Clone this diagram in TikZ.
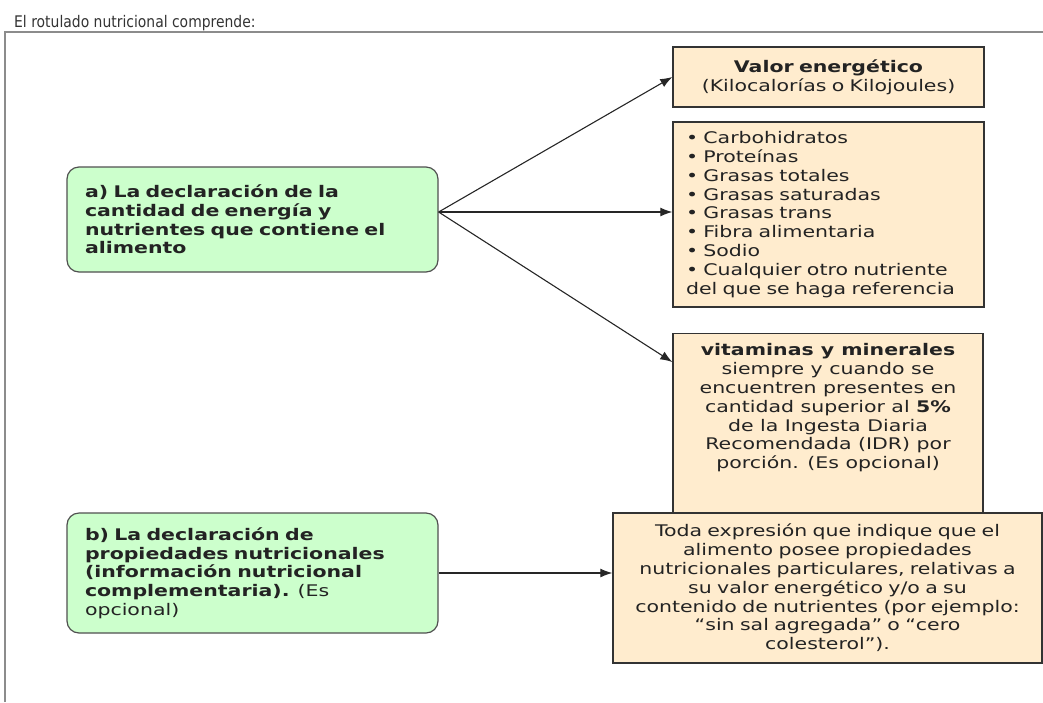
\documentclass[tikz,border=0pt]{standalone}
\usepackage{fontspec}
\setmainfont{DejaVu Sans}
\newfontfamily\boxfont{DejaVu Sans}[FakeStretch=1.28]
\newfontfamily\titlefont{DejaVu Sans}[FakeStretch=0.87]
\usetikzlibrary{arrows.meta}

\definecolor{boxgreen}{RGB}{204,255,204}
\definecolor{boxtan}{RGB}{255,236,206}
\definecolor{edgegray}{RGB}{80,80,80}
\definecolor{textgray}{RGB}{35,35,35}

\begin{document}
\begin{tikzpicture}[x=1pt, y=-1pt,
        greenbox/.style={draw=edgegray, line width=1.2pt, fill=boxgreen, rounded corners=12pt,
            align=left, text=textgray, inner xsep=18pt,
            font=\boxfont\fontsize{16}{18.7}\selectfont},
        tanbox/.style={draw=black!80, line width=1.4pt, fill=boxtan, text=textgray,
            font=\boxfont\fontsize{16}{18.8}\selectfont},
        arrow/.style={draw=black!85, line width=1.1pt, -{Latex[length=12pt, width=9pt]}},
        frameline/.style={draw=black!45, line width=1.5pt}]
        \useasboundingbox (0,0) rectangle (1043,702);

        % Title and frame
        \node[anchor=base west, inner sep=0pt, text=black!80, font=\titlefont\fontsize{16}{18}\selectfont] (title) at (14,27) {El rotulado nutricional comprende:};
        \draw[frameline] (5,702) -- (5,32) -- (1043,32);

        % Left boxes
        \node[greenbox, text width=335pt, minimum height=105pt] (decl) at (252.5,219.5)
            {\textbf{a) La declaración de la}\\ \textbf{cantidad de energía y}\\ \textbf{nutrientes que contiene el}\\ \textbf{alimento}};
        \node[greenbox, text width=335pt, minimum height=120pt] (prop) at (252.5,573)
            {\textbf{b) La declaración de}\\ \textbf{propiedades nutricionales}\\ \textbf{(información nutricional}\\ \textbf{complementaria).} (Es\\ opcional)};

        % Right boxes
        \node[tanbox, align=center, text width=300pt, inner xsep=5.5pt, minimum height=60pt] (energy) at (828.5,77)
            {\textbf{Valor energético}\\ (Kilocalorías o Kilojoules)};
        \node[tanbox, align=left, text width=285pt, inner xsep=13pt, minimum height=185pt] (nutr) at (828.5,214.5)
            {• Carbohidratos\\ • Proteínas\\ • Grasas totales\\ • Grasas saturadas\\ • Grasas trans\\ • Fibra alimentaria\\ • Sodio\\ • Cualquier otro nutriente\\ del que se haga referencia};
        \node[tanbox, anchor=north, inner xsep=10pt, minimum width=310pt, minimum height=180pt] (vitam) at (828,333)
            {\parbox[t][160pt][t]{290pt}{\centering \textbf{vitaminas y minerales}\\ siempre y cuando se\\ encuentren presentes en\\ cantidad superior al \textbf{5\%}\\ de la Ingesta Diaria\\ Recomendada (IDR) por\\ porción. (Es opcional)}};
        \node[tanbox, align=center, text width=410pt, inner xsep=9.5pt, minimum height=150pt] (claims) at (827.5,588)
            {Toda expresión que indique que el\\ alimento posee propiedades\\ nutricionales particulares, relativas a\\ su valor energético y/o a su\\ contenido de nutrientes (por ejemplo:\\ “sin sal agregada” o “cero\\ colesterol”).};

        % Connecting arrows
        \coordinate (fork) at ([yshift=7.5pt]decl.east);
        \draw[arrow] (fork) -- (energy.west);
        \draw[arrow] (fork) -- (fork -| nutr.west);
        \draw[arrow] (fork) -- ([yshift=-29pt]vitam.north west);
        \draw[arrow] (prop.east) -- (prop.east -| claims.west);
    \end{tikzpicture}
\end{document}
